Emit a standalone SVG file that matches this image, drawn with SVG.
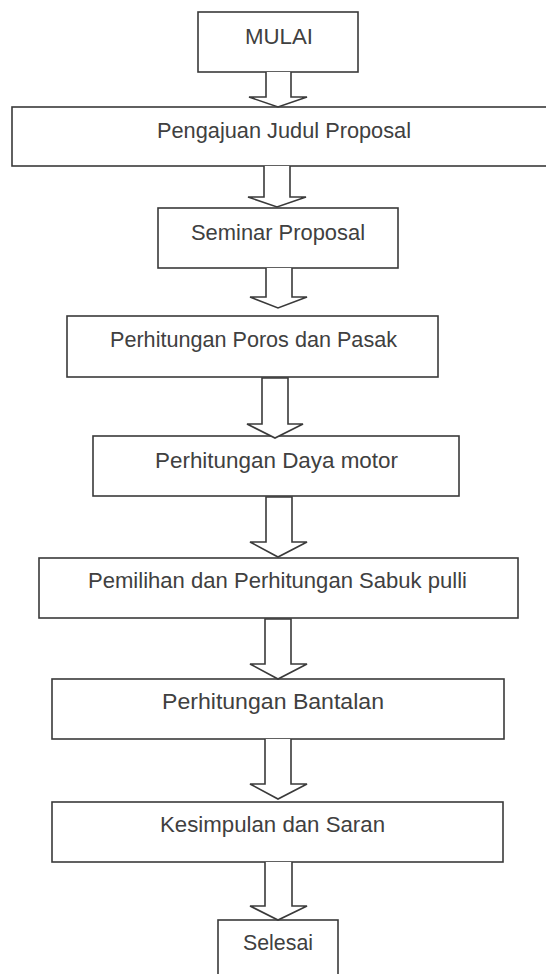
<svg xmlns="http://www.w3.org/2000/svg" width="546" height="974" viewBox="0 0 546 974">
<style>
.box{fill:#ffffff;stroke:#3a3a3a;stroke-width:1.6}
.arr{fill:#ffffff;stroke:#3a3a3a;stroke-width:1.6;stroke-linejoin:miter}
.t{font-family:"Liberation Sans",Arial,sans-serif;font-size:21.5px;fill:#404040}
</style>
<rect width="546" height="974" fill="#ffffff"/>
<g id="n1"><rect class="box" x="198" y="12" width="160" height="60"/><text class="t" x="245" y="44" textLength="68" lengthAdjust="spacingAndGlyphs">MULAI</text></g>
<g id="n2"><rect class="box" x="12" y="107" width="540" height="59"/><text class="t" x="157" y="138" textLength="254" lengthAdjust="spacingAndGlyphs">Pengajuan Judul Proposal</text></g>
<g id="n3"><rect class="box" x="158" y="208" width="240" height="60"/><text class="t" x="191" y="240" textLength="174" lengthAdjust="spacingAndGlyphs">Seminar Proposal</text></g>
<g id="n4"><rect class="box" x="67" y="316" width="371" height="61"/><text class="t" x="110" y="347" textLength="287" lengthAdjust="spacingAndGlyphs">Perhitungan Poros dan Pasak</text></g>
<g id="n5"><rect class="box" x="93" y="436" width="366" height="60"/><text class="t" x="155" y="468" textLength="243" lengthAdjust="spacingAndGlyphs">Perhitungan Daya motor</text></g>
<g id="n6"><rect class="box" x="39" y="558" width="479" height="60"/><text class="t" x="88" y="588" textLength="379" lengthAdjust="spacingAndGlyphs">Pemilihan dan Perhitungan Sabuk pulli</text></g>
<g id="n7"><rect class="box" x="52" y="679" width="452" height="60"/><text class="t" x="162" y="709" textLength="222" lengthAdjust="spacingAndGlyphs">Perhitungan Bantalan</text></g>
<g id="n8"><rect class="box" x="52" y="802" width="451" height="60"/><text class="t" x="160" y="832" textLength="225" lengthAdjust="spacingAndGlyphs">Kesimpulan dan Saran</text></g>
<g id="n9"><rect class="box" x="218" y="920" width="120" height="60"/><text class="t" x="243" y="950" textLength="70" lengthAdjust="spacingAndGlyphs">Selesai</text></g>
<g id="connectors">
<path class="arr" d="M266,72 V97 H249 L278,107 L307,97 H291 V72"/>
<path class="arr" d="M264,166 V197 H248 L277,207 L306,197 H290 V166"/>
<path class="arr" d="M266,268 V297 H250 L278,308 L307,297 H292 V268"/>
<path class="arr" d="M262,378 V424 H247 L275,438 L303,424 H288 V378 Z"/>
<path class="arr" d="M266,497 V542 H250 L278,557 L307,542 H292 V497 Z"/>
<path class="arr" d="M265,619 V664 H250 L278,679 L307,664 H291 V619 Z"/>
<path class="arr" d="M265,739 V784 H250 L278,799 L307,784 H291 V739"/>
<path class="arr" d="M265,862 V906 H250 L278,920 L307,906 H292 V862"/>
</g>
</svg>
